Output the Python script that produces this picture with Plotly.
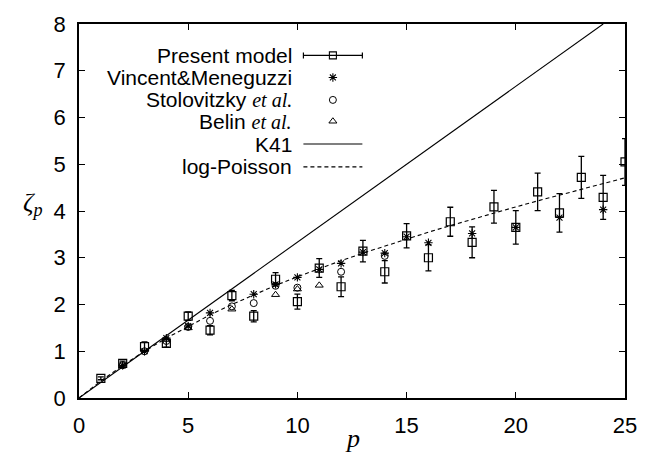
import plotly.graph_objects as go

# ---- data ----
p_model = list(range(1, 26))
z_model = [0.42, 0.74, 1.10, 1.17, 1.75, 1.45, 2.19, 1.75, 2.54, 2.06, 2.78, 2.38, 3.14,
           2.70, 3.47, 3.00, 3.77, 3.33, 4.09, 3.65, 4.41, 3.96, 4.72, 4.29, 5.05]
err_model = [0.03, 0.05, 0.10, 0.08, 0.09, 0.10, 0.11, 0.12, 0.14, 0.16, 0.20, 0.21, 0.23,
             0.24, 0.26, 0.28, 0.31, 0.33, 0.35, 0.36, 0.40, 0.41, 0.45, 0.47, 0.50]

p_vm = [2, 3, 4, 5, 6, 8, 9, 10, 11, 12, 13, 14, 15, 16, 18, 20, 22, 24]
z_vm = [0.70, 1.00, 1.28, 1.54, 1.82, 2.22, 2.43, 2.58, 2.75, 2.88, 3.12, 3.10, 3.45,
        3.32, 3.52, 3.65, 3.86, 4.03]

p_st = [2, 3, 4, 5, 6, 7, 8, 9, 10, 12, 14]
z_st = [0.70, 1.00, 1.22, 1.52, 1.65, 1.96, 2.03, 2.40, 2.36, 2.70, 3.04]

p_be = [4, 5, 7, 9, 10, 11]
z_be = [1.25, 1.50, 1.90, 2.21, 2.33, 2.41]

p_k41 = [0, 24]
z_k41 = [0, 8]

p_lp = list(range(0, 26))
z_lp = [0.0, 0.364, 0.696, 1.0, 1.280, 1.538, 1.778, 2.001, 2.211, 2.407, 2.594, 2.769,
        2.938, 3.098, 3.253, 3.403, 3.547, 3.687, 3.824, 3.957, 4.088, 4.216, 4.340,
        4.463, 4.584, 4.710]

ETAL = "<i><span style='font-family:Liberation Serif;font-size:20px'>et al.</span></i>"
legend_labels = ["Present model", "Vincent&Meneguzzi",
                 "Stolovitzky " + ETAL, "Belin " + ETAL,
                 "K41", "log-Poisson"]

x_ticks = [0, 5, 10, 15, 20, 25]
y_ticks = [0, 1, 2, 3, 4, 5, 6, 7, 8]

SANS = "Liberation Sans, Arial, sans-serif"
SERIF = "Liberation Serif, Times New Roman, serif"
BLK = "black"

fig = go.Figure()

fig.add_trace(go.Scatter(x=p_k41, y=z_k41, mode="lines",
                         line=dict(color=BLK, width=1.1), showlegend=False))
fig.add_trace(go.Scatter(x=p_lp, y=z_lp, mode="lines",
                         line=dict(color=BLK, width=1.1, dash="4px,3px"), showlegend=False))
fig.add_trace(go.Scatter(x=p_vm, y=z_vm, mode="markers",
                         marker=dict(symbol="asterisk-open", size=7, color=BLK,
                                     line=dict(color=BLK, width=1.1)), showlegend=False))
fig.add_trace(go.Scatter(x=p_st, y=z_st, mode="markers",
                         marker=dict(symbol="circle-open", size=7, color=BLK,
                                     line=dict(color=BLK, width=1)), showlegend=False))
fig.add_trace(go.Scatter(x=p_be, y=z_be, mode="markers",
                         marker=dict(symbol="triangle-up-open", size=7, color=BLK,
                                     line=dict(color=BLK, width=1)), showlegend=False))
fig.add_trace(go.Scatter(x=p_model, y=z_model, mode="markers",
                         error_y=dict(type="data", array=err_model, color=BLK,
                                      thickness=1.3, width=3),
                         marker=dict(symbol="square-open", size=8, color=BLK,
                                     line=dict(color=BLK, width=1.2)), showlegend=False))

# ---- custom gnuplot-style legend (overlay axes in plot fractions) ----
rows = [0.916, 0.857, 0.797, 0.740, 0.679, 0.618]
xs0, xs1, xm = 0.411, 0.519, 0.465
fig.add_trace(go.Scatter(x=[xm], y=[rows[0]], xaxis="x2", yaxis="y2", mode="markers",
                         error_x=dict(type="constant", value=xm - xs0, color=BLK,
                                      thickness=1.2, width=3),
                         marker=dict(symbol="square-open", size=7, color=BLK,
                                     line=dict(color=BLK, width=1.1)), showlegend=False))
fig.add_trace(go.Scatter(x=[xm], y=[rows[1]], xaxis="x2", yaxis="y2", mode="markers",
                         marker=dict(symbol="asterisk-open", size=7, color=BLK,
                                     line=dict(color=BLK, width=1.1)), showlegend=False))
fig.add_trace(go.Scatter(x=[xm], y=[rows[2]], xaxis="x2", yaxis="y2", mode="markers",
                         marker=dict(symbol="circle-open", size=7, color=BLK,
                                     line=dict(color=BLK, width=1)), showlegend=False))
fig.add_trace(go.Scatter(x=[xm], y=[rows[3]], xaxis="x2", yaxis="y2", mode="markers",
                         marker=dict(symbol="triangle-up-open", size=7, color=BLK,
                                     line=dict(color=BLK, width=1)), showlegend=False))
fig.add_trace(go.Scatter(x=[xs0, xs1], y=[rows[4], rows[4]], xaxis="x2", yaxis="y2",
                         mode="lines", line=dict(color=BLK, width=1.1), showlegend=False))
fig.add_trace(go.Scatter(x=[xs0, xs1], y=[rows[5], rows[5]], xaxis="x2", yaxis="y2",
                         mode="lines", line=dict(color=BLK, width=1.1, dash="4px,3px"),
                         showlegend=False))

annotations = []
for lab, ry in zip(legend_labels, rows):
    annotations.append(dict(text=lab, x=0.39, y=ry, xref="paper", yref="paper",
                            xanchor="right", yanchor="middle", showarrow=False,
                            borderpad=0, borderwidth=0,
                            font=dict(family=SANS, size=21, color=BLK)))
annotations.append(dict(text="<i>p</i>", x=0.5, y=-0.108, xref="paper", yref="paper",
                        xanchor="center", yanchor="middle", showarrow=False,
                        font=dict(family=SERIF, size=26, color=BLK)))
annotations.append(dict(text="<i>ζ<sub>p</sub></i>", x=-0.106, y=0.52, xref="paper",
                        yref="paper", xanchor="left", yanchor="middle", showarrow=False,
                        font=dict(family=SERIF, size=26, color=BLK)))

axis_common = dict(showgrid=False, zeroline=False, showline=True, linecolor=BLK,
                   linewidth=1.5, mirror="ticks", ticks="inside", ticklen=6,
                   tickwidth=1.2, tickcolor=BLK,
                   tickfont=dict(family=SANS, size=22, color=BLK))

fig.update_layout(
    width=649, height=459,
    margin=dict(l=79, r=13, t=18, b=61),
    paper_bgcolor="white", plot_bgcolor="white",
    xaxis=dict(range=[0, 25], tickvals=x_ticks, ticklabelstandoff=7, **axis_common),
    yaxis=dict(range=[0, 8], tickvals=y_ticks, ticklabelstandoff=7, **axis_common),
    xaxis2=dict(range=[0, 1], overlaying="x", visible=False, fixedrange=True),
    yaxis2=dict(range=[0, 1], overlaying="y", visible=False, fixedrange=True),
    annotations=annotations,
)

fig.write_html("out.html")
